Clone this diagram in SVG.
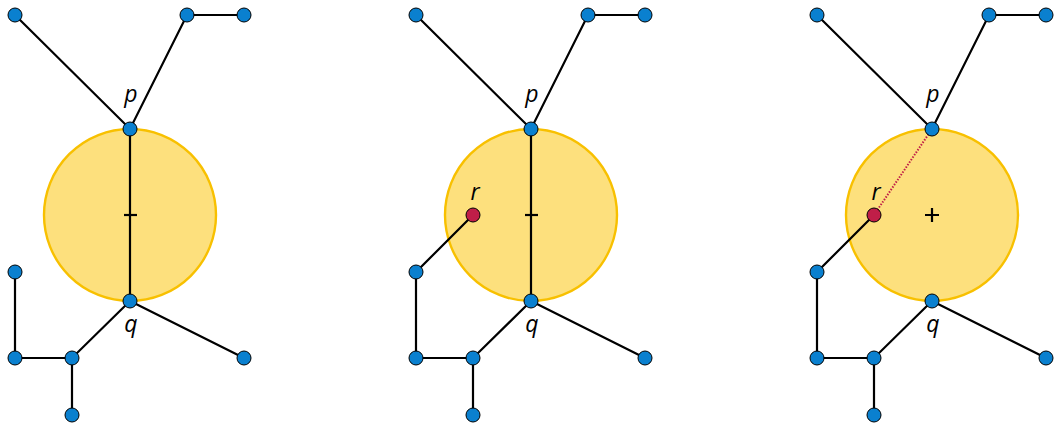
<svg xmlns="http://www.w3.org/2000/svg" width="1054" height="424" viewBox="0 0 1054 424">
<style>
.disk{fill:#fde07d;stroke:#f8c000;stroke-width:2.4}
.e{stroke:#000;stroke-width:2.2;fill:none}
.n{fill:#0a80cf;stroke:#000;stroke-width:1}
.r{fill:#c01e48;stroke:#000;stroke-width:1}
.d{stroke:#c01e48;stroke-width:2;stroke-dasharray:1.5 1.5;fill:none}
.t{font-family:"Open Sans","DejaVu Sans",sans-serif;font-style:italic;font-size:23px;fill:#000;text-anchor:middle}
.m{stroke:#000;stroke-width:2.2}
</style>
<rect width="1054" height="424" fill="#fff"/>
<g id="disks">
<circle class="disk" cx="130" cy="215" r="86"/>
<circle class="disk" cx="531" cy="215" r="86"/>
<circle class="disk" cx="932" cy="215" r="86"/>
</g>
<g id="connectors">
<path class="e" d="M15,15L130,129L187,15L244,15 M130,129L130,301 M130,301L244,358 M130,301L72,358L15,358L15,272 M72,358L72,415"/>
<path class="m" d="M124,215H137"/>
<path class="e" d="M416,15L531,129L588,15L645,15 M531,129L531,301 M531,301L645,358 M531,301L473,358L416,358L416,272L473,215 M473,358L473,415"/>
<path class="m" d="M525,215H538"/>
<path class="e" d="M817,15L932,129L989,15L1046,15 M932,301L1046,358 M932,301L874,358L817,358L817,272L874,215 M874,358L874,415"/>
<path class="d" d="M874,215L932,129"/>
<path class="m" d="M925,215H939M932,208V222"/>
</g>
<g id="p1">
<circle class="n" cx="15" cy="15" r="7"/><circle class="n" cx="187" cy="15" r="7"/><circle class="n" cx="244" cy="15" r="7"/>
<circle class="n" cx="130" cy="129" r="7"/><circle class="n" cx="130" cy="301" r="7"/>
<circle class="n" cx="15" cy="272" r="7"/><circle class="n" cx="15" cy="358" r="7"/><circle class="n" cx="72" cy="358" r="7"/><circle class="n" cx="72" cy="415" r="7"/><circle class="n" cx="244" cy="358" r="7"/>
<text class="t" x="131" y="102">p</text><text class="t" x="131" y="332">q</text>
</g>
<g id="p2">
<circle class="n" cx="416" cy="15" r="7"/><circle class="n" cx="588" cy="15" r="7"/><circle class="n" cx="645" cy="15" r="7"/>
<circle class="n" cx="531" cy="129" r="7"/><circle class="n" cx="531" cy="301" r="7"/>
<circle class="n" cx="416" cy="272" r="7"/><circle class="n" cx="416" cy="358" r="7"/><circle class="n" cx="473" cy="358" r="7"/><circle class="n" cx="473" cy="415" r="7"/><circle class="n" cx="645" cy="358" r="7"/>
<circle class="r" cx="473" cy="215" r="7"/>
<text class="t" x="532" y="102">p</text><text class="t" x="532" y="332">q</text><text class="t" x="475" y="200">r</text>
</g>
<g id="p3">
<circle class="n" cx="817" cy="15" r="7"/><circle class="n" cx="989" cy="15" r="7"/><circle class="n" cx="1046" cy="15" r="7"/>
<circle class="n" cx="932" cy="129" r="7"/><circle class="n" cx="932" cy="301" r="7"/>
<circle class="n" cx="817" cy="272" r="7"/><circle class="n" cx="817" cy="358" r="7"/><circle class="n" cx="874" cy="358" r="7"/><circle class="n" cx="874" cy="415" r="7"/><circle class="n" cx="1046" cy="358" r="7"/>
<circle class="r" cx="874" cy="215" r="7"/>
<text class="t" x="933" y="102">p</text><text class="t" x="933" y="332">q</text><text class="t" x="876" y="200">r</text>
</g>
</svg>
